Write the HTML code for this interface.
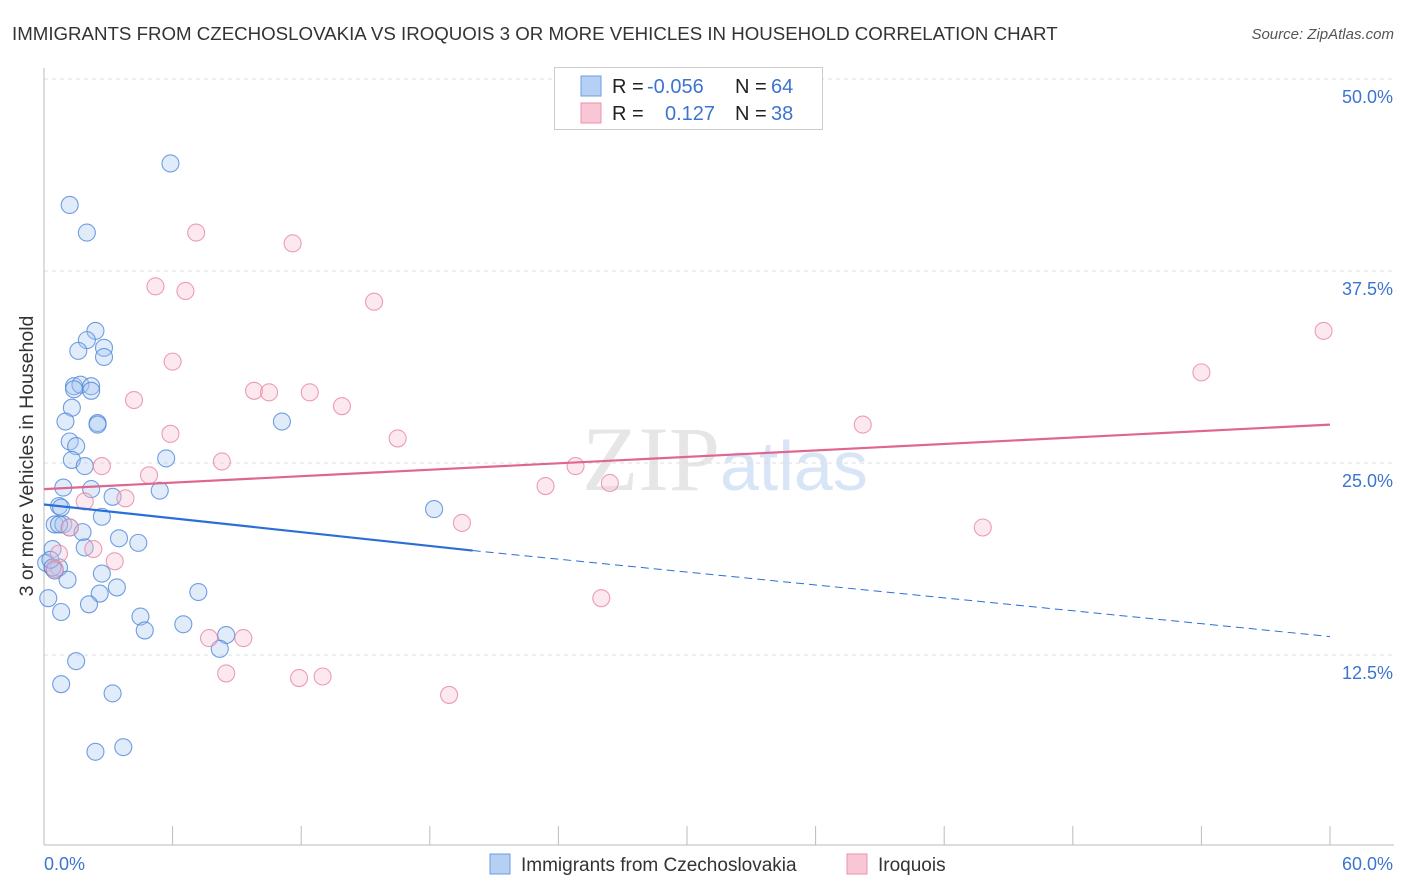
<!DOCTYPE html>
<html><head><meta charset="utf-8"><style>
body{margin:0;background:#fff;font-family:"Liberation Sans",sans-serif;}
#wrap{position:relative;width:1406px;height:892px;overflow:hidden;}
</style></head><body>
<div id="wrap">
<svg id="chart" width="1406" height="892" xmlns="http://www.w3.org/2000/svg">
<text x="12" y="40" font-size="18.7" fill="#333">IMMIGRANTS FROM CZECHOSLOVAKIA VS IROQUOIS 3 OR MORE VEHICLES IN HOUSEHOLD CORRELATION CHART</text>
<text x="1394" y="39" font-size="15" fill="#555" font-style="italic" text-anchor="end">Source: ZipAtlas.com</text>
<text x="720" y="490" font-size="92" fill="#e6e6e6" text-anchor="end" font-family="Liberation Serif,serif">ZIP</text>
<text x="720" y="490" font-size="70" fill="#d8e5f6">atlas</text>
<text transform="translate(33,456) rotate(-90)" font-size="19.5" fill="#333" text-anchor="middle">3 or more Vehicles in Household</text>
<g id="grid"></g><g id="marks"></g>
<g>
<rect x="554.5" y="67.5" width="268" height="62" fill="#fff" stroke="#ccc"/>
<rect x="581" y="76" width="20" height="20" fill="#b6d0f5" stroke="#6d9de0"/>
<rect x="581" y="103" width="20" height="20" fill="#f8c6d5" stroke="#e892ad"/>
<text y="93" font-size="20" fill="#222"><tspan x="612">R =</tspan><tspan x="647" fill="#3d74d0">-0.056</tspan><tspan x="735">N =</tspan><tspan x="771" fill="#3d74d0">64</tspan></text>
<text y="120" font-size="20" fill="#222"><tspan x="612">R =</tspan><tspan x="665" fill="#3d74d0">0.127</tspan><tspan x="735">N =</tspan><tspan x="771" fill="#3d74d0">38</tspan></text>
</g>
<g>
<rect x="490" y="854" width="20" height="20" fill="#b6d0f5" stroke="#6d9de0"/>
<text x="521" y="871" font-size="19" fill="#333">Immigrants from Czechoslovakia</text>
<rect x="847" y="854" width="20" height="20" fill="#f8c6d5" stroke="#e892ad"/>
<text x="878" y="871" font-size="19" fill="#333">Iroquois</text>
</g>
</svg></div>
<script>
const yTicks=[12.5,25,37.5,50];
const yTickLabels=["12.5%","25.0%","37.5%","50.0%"];
const xTicks=[0,6,12,18,24,30,36,42,48,54,60];
const blueX=[5.9,1.2,2.0,2.4,2.0,1.6,2.8,2.8,1.4,1.7,2.2,1.4,2.2,1.3,1.0,2.5,2.5,1.2,1.5,1.3,1.9,5.7,11.1,0.9,2.2,3.2,5.4,0.7,0.8,2.7,0.5,0.9,1.2,1.8,3.5,4.4,0.4,1.9,0.1,0.4,0.7,2.7,1.1,3.4,0.2,2.6,7.2,0.8,2.1,4.5,4.7,6.5,8.5,8.2,18.2,1.5,0.8,3.2,2.4,3.7,0.4,0.5,0.3,0.7];
const blueY=[44.5,41.8,40.0,33.6,33.0,32.3,32.5,31.9,30.0,30.1,30.0,29.8,29.7,28.6,27.7,27.6,27.5,26.4,26.1,25.2,24.8,25.3,27.7,23.4,23.3,22.8,23.2,22.2,22.1,21.5,21.0,21.0,20.8,20.5,20.1,19.8,19.4,19.5,18.5,18.2,18.2,17.8,17.4,16.9,16.2,16.5,16.6,15.3,15.8,15.0,14.1,14.5,13.8,12.9,22.0,12.1,10.6,10.0,6.2,6.5,18.2,18.0,18.7,21.0];
const pinkX=[7.1,11.6,5.2,6.6,15.4,6.0,59.7,54.0,4.2,9.8,10.5,12.4,13.9,5.9,16.5,38.2,2.7,8.3,4.9,24.8,23.4,26.4,1.9,3.8,19.5,43.8,1.2,0.7,2.3,3.3,0.5,26.0,7.7,9.3,8.5,11.9,13.0,18.9];
const pinkY=[40.0,39.3,36.5,36.2,35.5,31.6,33.6,30.9,29.1,29.7,29.6,29.6,28.7,26.9,26.6,27.5,24.8,25.1,24.2,24.8,23.5,23.7,22.5,22.7,21.1,20.8,20.8,19.1,19.4,18.6,18.1,16.2,13.6,13.6,11.3,11.0,11.1,9.9];
const blueTrend=[[0,22.3],[20,19.3],[60,13.7]];
const pinkTrend=[[0,23.3],[60,27.5]];
const X=v=>44+v/60*1286, Y=v=>847-v/12.5*192;
const NS="http://www.w3.org/2000/svg";
const grid=document.getElementById('grid'), marks=document.getElementById('marks');
function mk(tag,attrs,parent){const e=document.createElementNS(NS,tag);for(const k in attrs)e.setAttribute(k,attrs[k]);parent.appendChild(e);return e;}
yTicks.forEach((t,i)=>{
  const l=mk('line',{x1:44,x2:1394,y1:Y(t),y2:Y(t),stroke:'#ddd','stroke-dasharray':'4,4'},grid);
  
  
  const tx=mk('text',{x:1393,y:Y(t)+24,'font-size':18,fill:'#3d74d0','text-anchor':'end'},grid);
  tx.textContent=yTickLabels[i];
  
  
});
mk('line',{x1:44,x2:1394,y1:Y(0)-2,y2:Y(0)-2,stroke:'#bbb'},grid);
mk('line',{x1:44,x2:44,y1:68,y2:845,stroke:'#bbb'},grid);
xTicks.forEach(t=>{const l=mk('line',{x1:X(t),x2:X(t),y1:826,y2:845,stroke:'#bbb'},grid);
  
  });
let a=mk('text',{x:44,y:870,'font-size':18,fill:'#3d74d0'},grid);a.textContent='0.0%';


a=mk('text',{x:1393,y:870,'font-size':18,fill:'#3d74d0','text-anchor':'end'},grid);a.textContent='60.0%';


function dots(xs,ys,fill,stroke,name){xs.forEach((v,i)=>{
  const c=mk('circle',{cx:X(v),cy:Y(ys[i]),r:8.5,fill:fill,'fill-opacity':0.35,stroke:stroke,'stroke-opacity':0.8,'stroke-width':1.1},marks);
  
  });}
dots(blueX,blueY,'#a9c8f2','#4f87da','point-czechoslovakia');
dots(pinkX,pinkY,'#f7c0d1','#e8869f','point-iroquois');
let t=mk('line',{x1:X(blueTrend[0][0]),y1:Y(blueTrend[0][1]),x2:X(blueTrend[1][0]),y2:Y(blueTrend[1][1]),stroke:'#2b6fd6','stroke-width':2.2},marks);


t=mk('line',{x1:X(blueTrend[1][0]),y1:Y(blueTrend[1][1]),x2:X(blueTrend[2][0]),y2:Y(blueTrend[2][1]),stroke:'#2b6fd6','stroke-width':1,'stroke-dasharray':'8,5'},marks);


t=mk('line',{x1:X(pinkTrend[0][0]),y1:Y(pinkTrend[0][1]),x2:X(pinkTrend[1][0]),y2:Y(pinkTrend[1][1]),stroke:'#e0668e','stroke-width':2.2},marks);


</script>
</body></html>
